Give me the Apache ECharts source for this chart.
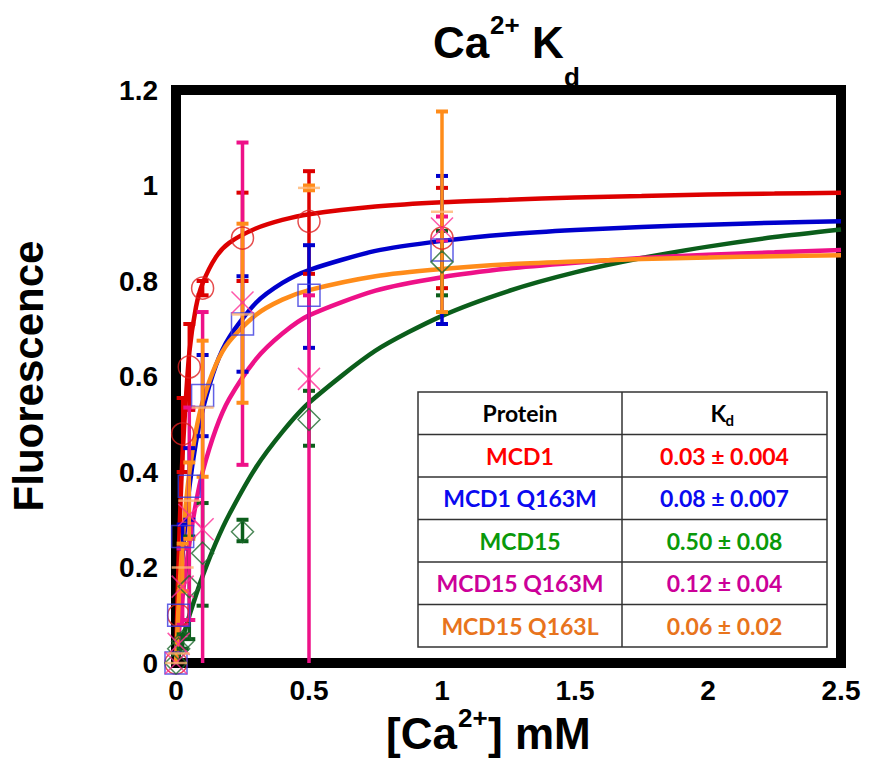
<!DOCTYPE html>
<html>
<head>
<meta charset="utf-8">
<script src="https://cdn.jsdelivr.net/npm/echarts@6/dist/echarts.min.js"></script>
</head>
<body style="margin:0;background:#fff">
<div id="container" style="width:869px;height:762px"></div>
<script>
// Ca2+ concentrations of the measured points (mM)
var conc = [0, 0.01, 0.025, 0.05, 0.1, 0.25, 0.5, 1];

var mcd1 = [0, 0.10, 0.48, 0.62, 0.785, 0.89, 0.925, 0.89];
var mcd1Lo = [0, 0.10, 0.40, 0.53, 0.77, 0.80, 0.815, 0.785];
var mcd1Hi = [0, 0.10, 0.555, 0.71, 0.80, 0.985, 1.03, 0.995];

var q163m = [0, 0.10, 0.265, 0.37, 0.56, 0.71, 0.77, 0.865];
var q163mLo = [0, 0.10, 0.24, 0.30, 0.475, 0.61, 0.66, 0.71];
var q163mHi = [0, 0.10, 0.29, 0.45, 0.645, 0.81, 0.875, 1.02];

var mcd15 = [0, 0.03, 0.045, 0.16, 0.23, 0.275, 0.51, 0.84];
var mcd15Lo = [0, 0.03, 0.03, 0.05, 0.12, 0.255, 0.455, 0.77];
var mcd15Hi = [0, 0.03, 0.06, 0.265, 0.335, 0.30, 0.57, 0.905];

var mcd15m = [0, 0.04, 0.16, 0.31, 0.28, 0.755, 0.595, 0.91];
var mcd15mLo = [0, 0.04, 0.08, 0.09, 0, 0.415, 0, 0.885];
var mcd15mHi = [0, 0.04, 0.24, 0.535, 0.735, 1.09, 0.77, 0.935];

var mcd15l = [0, 0.02, 0.20, 0.34, 0.535, 0.73, 0.995, 0.945];
var mcd15lLo = [0, 0.02, 0.15, 0.26, 0.39, 0.545, 0.99, 0.735];
var mcd15lHi = [0, 0.02, 0.25, 0.42, 0.675, 0.92, 1.0, 1.155];

// fitted curves
var fitX = [0, 0.01, 0.02, 0.03, 0.05, 0.075, 0.1, 0.15, 0.2, 0.3, 0.4, 0.5, 0.75, 1, 1.25, 1.5, 1.75, 2, 2.25, 2.5];
var fitMcd1 = [0, 0.22, 0.38, 0.49, 0.65, 0.745, 0.795, 0.85, 0.88, 0.91, 0.928, 0.94, 0.956, 0.965, 0.97, 0.975, 0.978, 0.981, 0.983, 0.985];
var fitQ163m = [0, 0.106, 0.191, 0.26, 0.367, 0.462, 0.53, 0.623, 0.682, 0.754, 0.796, 0.823, 0.863, 0.884, 0.898, 0.907, 0.913, 0.918, 0.922, 0.925];
var fitMcd15 = [0, 0.021, 0.042, 0.062, 0.099, 0.142, 0.182, 0.252, 0.311, 0.409, 0.484, 0.545, 0.654, 0.727, 0.779, 0.818, 0.848, 0.872, 0.892, 0.908];
var fitMcd15m = [0, 0.06, 0.115, 0.165, 0.25, 0.335, 0.40, 0.49, 0.553, 0.636, 0.69, 0.728, 0.78, 0.808, 0.826, 0.838, 0.848, 0.855, 0.86, 0.865];
var fitMcd15l = [0, 0.125, 0.219, 0.292, 0.398, 0.486, 0.547, 0.625, 0.673, 0.729, 0.761, 0.781, 0.81, 0.825, 0.835, 0.841, 0.846, 0.849, 0.852, 0.854];

// table
var proteins = ['MCD1', 'MCD1 Q163M', 'MCD15', 'MCD15 Q163M', 'MCD15 Q163L'];
var kdText = ['0.03 \u00b1 0.004', '0.08 \u00b1 0.007', '0.50 \u00b1 0.08', '0.12 \u00b1 0.04', '0.06 \u00b1 0.02'];

var xTicks = [0, 0.5, 1, 1.5, 2, 2.5];
var yTicks = [0, 0.2, 0.4, 0.6, 0.8, 1, 1.2];

var FONT = '"Liberation Sans", Arial, sans-serif';
var lineCol = ['#dd0000', '#0000cc', '#0b5e1b', '#ee1188', '#ff8c1a'];
var markCol = ['#e02020', '#3a3ae0', '#1f6a30', '#ff2d96', '#ffb470'];
var tableCol = ['#ff0000', '#0a0af0', '#0a990a', '#cc0099', '#e8741c'];

function pts(xs, ys) {
  return xs.map(function (x, i) { return [x, ys[i]]; });
}
function bars(ys, lo, hi) {
  var out = [];
  conc.forEach(function (x, i) {
    if (hi[i] > lo[i]) out.push([x, lo[i], hi[i]]);
  });
  return out;
}
function errRender(color) {
  return function (params, api) {
    var x = api.value(0);
    var lo = api.coord([x, api.value(1)]);
    var hi = api.coord([x, api.value(2)]);
    var w = 6;
    var kids = [
      {type: 'line', shape: {x1: hi[0], y1: hi[1], x2: lo[0], y2: lo[1]}, style: {stroke: color, lineWidth: 3.5}},
      {type: 'line', shape: {x1: hi[0] - w, y1: hi[1], x2: hi[0] + w, y2: hi[1]}, style: {stroke: color, lineWidth: 4}}
    ];
    if (api.value(1) > 0) {
      kids.push({type: 'line', shape: {x1: lo[0] - w, y1: lo[1], x2: lo[0] + w, y2: lo[1]}, style: {stroke: color, lineWidth: 4}});
    }
    return {type: 'group', children: kids};
  };
}

var sets = [
  {y: mcd1, lo: mcd1Lo, hi: mcd1Hi, fit: fitMcd1, symbol: 'circle'},
  {y: q163m, lo: q163mLo, hi: q163mHi, fit: fitQ163m, symbol: 'rect'},
  {y: mcd15, lo: mcd15Lo, hi: mcd15Hi, fit: fitMcd15, symbol: 'diamond'},
  {y: mcd15m, lo: mcd15mLo, hi: mcd15mHi, fit: fitMcd15m, symbol: 'path://M0,0L10,10M10,0L0,10'},
  {y: mcd15l, lo: mcd15lLo, hi: mcd15lHi, fit: fitMcd15l, symbol: 'rect'}
];

var series = [];
sets.forEach(function (s, k) {
  series.push({
    name: proteins[k] + ' fit', type: 'line', data: pts(fitX, s.fit),
    smooth: 0.25, showSymbol: false, clip: false, z: 2,
    lineStyle: {color: lineCol[k], width: 4.5}
  });
});
sets.forEach(function (s, k) {
  series.push({
    name: proteins[k] + ' err', type: 'custom', data: bars(s.y, s.lo, s.hi),
    renderItem: errRender(lineCol[k]), clip: false, z: 3
  });
});
sets.forEach(function (s, k) {
  var orange = k === 4;
  series.push({
    name: proteins[k], type: 'scatter', data: pts(conc, s.y), clip: false, z: 4,
    symbol: s.symbol, symbolSize: orange ? [22, 2.5] : 22,
    itemStyle: orange ? {color: markCol[k]} :
      {color: 'rgba(255,255,255,0)', borderColor: markCol[k], borderWidth: 1.5}
  });
});

// table graphics
var tX = 418, tMid = 622, tR = 827, tTop = 392, rowH = 42.5;
var g = [];
var bold = function (size) { return 'bold ' + size + 'px Lato, "Open Sans", sans-serif'; };
g.push({type: 'rect', shape: {x: tX, y: tTop, width: tR - tX, height: rowH * 6},
  style: {fill: '#fff', stroke: '#333', lineWidth: 1.5}, z: 10});
for (var r = 1; r < 6; r++) {
  g.push({type: 'line', shape: {x1: tX, y1: tTop + rowH * r, x2: tR, y2: tTop + rowH * r},
    style: {stroke: '#333', lineWidth: 1.5}, z: 10});
}
g.push({type: 'line', shape: {x1: tMid, y1: tTop, x2: tMid, y2: tTop + rowH * 6},
  style: {stroke: '#333', lineWidth: 1.5}, z: 10});
g.push({type: 'text', x: (tX + tMid) / 2, y: tTop + rowH / 2, z: 11,
  style: {text: 'Protein', font: bold(23), fill: '#000', textAlign: 'center', textVerticalAlign: 'middle'}});
g.push({type: 'text', x: (tMid + tR) / 2 - 6, y: tTop + rowH / 2, z: 11,
  style: {text: 'K', font: bold(23), fill: '#000', textAlign: 'center', textVerticalAlign: 'middle'}});
g.push({type: 'text', x: (tMid + tR) / 2 + 1, y: tTop + rowH / 2 + 7, z: 11,
  style: {text: 'd', font: bold(15), fill: '#000', textAlign: 'left', textVerticalAlign: 'middle'}});
proteins.forEach(function (p, i) {
  var cy = tTop + rowH * (i + 1.5);
  g.push({type: 'text', x: (tX + tMid) / 2, y: cy, z: 11,
    style: {text: p, font: bold(23), fill: tableCol[i], textAlign: 'center', textVerticalAlign: 'middle'}});
  g.push({type: 'text', x: (tMid + tR) / 2, y: cy, z: 11,
    style: {text: kdText[i], font: bold(23), fill: tableCol[i], textAlign: 'center', textVerticalAlign: 'middle'}});
});

// title: Ca2+ Kd
function txt(s, x, y, size, align) {
  return {type: 'text', x: x, y: y, z: 11,
    style: {text: s, font: 'bold ' + size + 'px ' + FONT, fill: '#000', textAlign: align || 'left', textVerticalAlign: 'middle'}};
}
g.push(txt('Ca', 433, 42, 44));
g.push(txt('2+', 490, 25, 26));
g.push(txt('K', 532, 42, 44));
g.push(txt('d', 564, 77, 26));
// x axis name: [Ca2+] mM
g.push(txt('[Ca', 386, 733, 44));
g.push(txt('2+', 458, 718, 26));
g.push(txt('] mM', 488, 733, 44));
// y axis name
g.push({type: 'text', x: 28, y: 376, rotation: Math.PI / 2, z: 11,
  style: {text: 'Fluorescence', font: 'bold 42px ' + FONT, fill: '#000', textAlign: 'center', textVerticalAlign: 'middle'}});

var chart = echarts.init(document.getElementById('container'), null, {renderer: 'svg'});
chart.setOption({
  backgroundColor: '#fff',
  animation: false,
  grid: {left: 176, right: 28, top: 90, bottom: 99, show: true,
    borderColor: '#000', borderWidth: 10, backgroundColor: '#fff'},
  xAxis: {
    type: 'value', min: xTicks[0], max: xTicks[xTicks.length - 1], interval: 0.5,
    axisLine: {show: false}, axisTick: {show: false}, splitLine: {show: false},
    axisLabel: {margin: 13, color: '#000', fontSize: 28, fontWeight: 'bold', fontFamily: FONT}
  },
  yAxis: {
    type: 'value', min: yTicks[0], max: yTicks[yTicks.length - 1], interval: 0.2,
    axisLine: {show: false}, axisTick: {show: false}, splitLine: {show: false},
    axisLabel: {margin: 18, color: '#000', fontSize: 28, fontWeight: 'bold', fontFamily: FONT}
  },
  graphic: g,
  series: series
});
</script>
</body>
</html>
